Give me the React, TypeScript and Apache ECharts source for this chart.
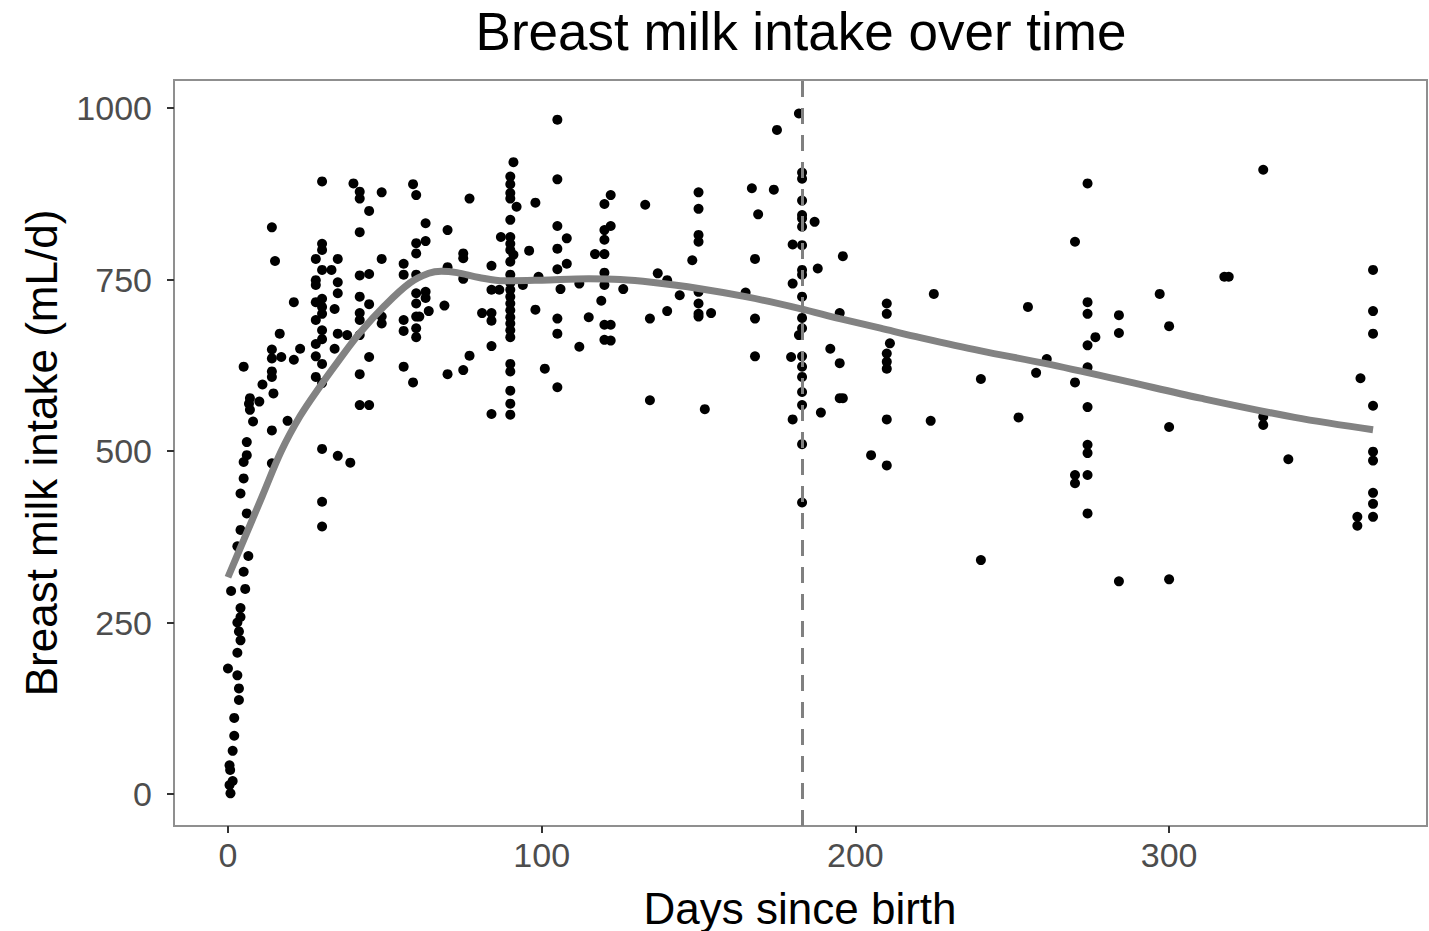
import React, { useEffect, useRef } from "react";
import * as echarts from "echarts";

// Observed points: day since birth, breast milk intake (mL/d)
const pointDays: number[] = [
  // first week
  6, 6, 5, 5, 4, 6, 4, 3, 6.5, 5, 1, 5.5, 4, 4, 3, 3.5, 4, 3, 0, 3, 3.5, 3.5, 2, 2, 1.5, 0.5, 0.7, 1.5, 0.5, 0.8,
  // 1-3 weeks
  5, 11, 14, 14, 14.5, 7, 6.7, 10, 7, 8, 19, 14, 14, 14, 15, 21, 16.5, 14, 23, 14, 17, 21,
  // ~1 month
  30, 30, 30, 28, 30, 33, 35, 28, 28, 35, 35, 28, 30, 30, 28, 30, 34, 30, 30, 28, 35, 38, 28, 30, 34, 28, 30, 30, 35, 39, 30, 30,
  // 40-49
  40, 42, 42, 49, 45, 42, 49, 42, 45, 42, 45, 42, 42, 49, 49, 42, 45, 42, 42, 45,
  // ~2 months
  59, 60, 56, 56, 60, 60, 60, 56, 56, 60, 60, 60, 60, 60, 56, 59, 63, 63, 63, 63, 64, 61,
  // 69-87
  77, 70, 75, 75, 70, 75, 84, 84, 86.5, 87, 69, 81, 84, 84, 84, 77, 75, 70, 84,
  // ~3 months
  91, 90, 90, 90, 90, 92, 90, 90, 90, 90, 91, 90, 90, 90, 90, 90, 90, 90, 90, 90, 90, 90, 90, 90, 90, 90, 90,
  // 94-112
  105, 105, 98, 105, 108, 96, 105, 108, 105, 94, 99, 106, 112, 98, 105, 105, 112, 101, 105,
  // ~4 months
  122, 120, 133, 122, 120, 120, 117, 120, 120, 120, 126, 115, 119, 120, 122, 120, 122, 134.5, 134.5,
  // ~5 months
  150, 150, 150, 150, 148, 137, 140, 144, 150, 150, 150, 150, 154, 140, 152, 167, 174, 175, 169, 168, 165, 168, 168,
  // ~6 months
  182, 183, 183, 183, 183, 183, 183, 187, 180, 183, 188, 183, 183, 180, 183, 183, 183, 182, 179.5, 183, 183, 183, 183,
  183, 180, 189, 183, 183, 196, 195, 192, 195, 195, 196,
  // 7-8 months
  205, 210, 210, 211, 210, 210, 210, 210, 210, 225, 224, 240, 240, 255, 252, 261, 257.6,
  // ~9 months
  274, 270, 274, 274, 276.5, 274, 274, 270, 274, 274, 274, 270, 270, 274, 274, 284, 284, 284,
  // 10-12 months
  300, 297, 300, 300, 317.6, 319, 330, 330, 330, 338, 365, 365, 365, 361, 365, 365, 365, 365, 365, 365, 360, 360,
];

const pointIntake: number[] = [
  513, 494, 484, 460, 438, 409, 385, 361, 347, 324, 296, 299, 271, 258, 250, 237, 224, 206, 183, 173, 154, 137, 111, 85, 63, 42, 35, 19, 13, 1,
  623, 597, 616, 608, 584, 577, 569, 572, 560, 543, 544, 530, 482, 826, 777, 717, 671, 648, 649, 635, 637, 633,
  893, 802, 793, 780, 764, 764, 780, 749, 742, 746, 730, 717, 722, 710, 691, 700, 707, 676, 663, 656, 671, 669, 638, 627, 649, 608, 599, 503, 493, 483, 426, 390,
  890, 878, 868, 877, 850, 819, 780, 756, 758, 725, 714, 701, 691, 696, 686, 669, 637, 612, 567, 567,
  889, 873, 773, 757, 803, 788, 757, 691, 675, 730, 715, 696, 679, 666, 623, 600, 832, 806, 732, 723, 704, 696,
  868, 822, 788, 781, 768, 751, 770, 735, 735, 812, 712, 701, 701, 690, 653, 639, 618, 612, 554,
  921, 900, 889, 876, 868, 856, 837, 812, 802, 793, 786, 776, 757, 745, 735, 725, 715, 705, 695, 686, 676, 666, 627, 616, 588, 569, 553,
  983, 896, 862, 828, 810, 792, 795, 773, 765, 742, 754, 736, 744, 706, 693, 671, 652, 620, 593,
  873, 860, 859, 828, 822, 808, 787, 787, 760, 742, 736, 695, 719, 684, 684, 662, 661, 693, 574,
  877, 853, 815, 805, 778, 759, 749, 727, 732, 715, 700, 696, 701, 704, 561, 883, 881, 968, 845, 780, 731, 693, 638,
  992, 906, 897, 865, 844, 839, 827, 834, 801, 800, 766, 764, 757, 744, 725, 694, 679, 669, 637, 638, 623, 608, 586,
  567, 546, 556, 510, 425, 784, 701, 649, 628, 577, 577,
  494, 715, 700, 657, 642, 630, 620, 546, 479, 729, 544, 605, 341, 710, 549, 634, 614,
  890, 805, 717, 700, 666, 654, 622, 600, 564, 509, 497, 465, 453, 465, 409, 698, 672, 310,
  682, 729, 535, 313, 754, 754, 910, 550, 538, 488, 764, 704, 671, 606, 566, 499, 486, 439, 423, 404, 404, 391,
];

// Smoothed (loess) trend
const smoothDays: number[] = [0, 5, 11, 17, 23, 29, 35, 42, 50, 58, 64, 68, 73, 80, 88, 100, 115, 125, 135, 150, 165, 182, 195, 208, 221, 240, 260, 284, 310, 340, 365];
const smoothIntake: number[] = [316, 370, 435, 500, 551, 592, 630, 672, 712, 745, 759, 762, 760, 753, 748, 749, 751, 750, 746, 737, 725, 708, 693, 679, 665, 646, 628, 604, 577, 549, 531];

const sixMonthsDay = 183;
const xTicks: number[] = [0, 100, 200, 300];
const yTicks: number[] = [0, 250, 500, 750, 1000];

const FONT = "Liberation Sans, Arial, Helvetica, sans-serif";

export default function App() {
  const ref = useRef<HTMLDivElement>(null);

  useEffect(() => {
    if (!ref.current) return;
    const chart = echarts.init(ref.current, undefined, { renderer: "svg" });
    const scatterData = pointDays.map((d, i) => [d, pointIntake[i]]);
    const smoothData = smoothDays.map((d, i) => [d, smoothIntake[i]]);

    chart.setOption({
      animation: false,
      backgroundColor: "#ffffff",
      grid: {
        left: 174,
        right: 2,
        top: 80,
        bottom: 105,
        show: true,
        borderColor: "#8f8f8f",
        borderWidth: 2,
        backgroundColor: "#ffffff",
        containLabel: false,
        outerBoundsMode: "none",
      },
      xAxis: {
        type: "value",
        min: -17.2,
        max: 382.2,
        axisLine: { show: false, onZero: false },
        splitLine: { show: false },
        axisTick: {
          show: true,
          length: 7,
          lineStyle: { color: "#333333", width: 2 },
          customValues: xTicks,
        },
        axisLabel: {
          customValues: xTicks,
          fontSize: 34,
          fontFamily: FONT,
          color: "#4d4d4d",
          margin: 12,
          formatter: (v: number) => String(v),
        },
      },
      yAxis: {
        type: "value",
        min: -46.6,
        max: 1040.8,
        axisLine: { show: false, onZero: false },
        splitLine: { show: false },
        axisTick: {
          show: true,
          length: 7,
          lineStyle: { color: "#333333", width: 2 },
          customValues: yTicks,
        },
        axisLabel: {
          customValues: yTicks,
          fontSize: 34,
          fontFamily: FONT,
          color: "#4d4d4d",
          margin: 22,
          formatter: (v: number) => String(v),
        },
      },
      series: [
        {
          type: "scatter",
          data: scatterData,
          symbolSize: 10,
          itemStyle: { color: "#000000", opacity: 1 },
          z: 2,
          silent: true,
        },
        {
          type: "line",
          data: smoothData,
          smooth: 0.35,
          showSymbol: false,
          symbol: "none",
          lineStyle: { color: "#828282", width: 7 },
          z: 4,
          silent: true,
          markLine: {
            silent: true,
            symbol: ["none", "none"],
            label: { show: false },
            lineStyle: { color: "#808080", width: 3, type: [16, 11] },
            data: [{ xAxis: sixMonthsDay }],
          },
        },
      ],
      graphic: [
        {
          type: "text",
          x: 801,
          y: 31,
          style: {
            text: "Breast milk intake over time",
            fontSize: 53,
            fontFamily: FONT,
            fill: "#000000",
            align: "center",
            verticalAlign: "middle",
            textAlign: "center",
            textVerticalAlign: "middle",
          },
        },
        {
          type: "text",
          x: 800,
          y: 908,
          style: {
            text: "Days since birth",
            fontSize: 44,
            fontFamily: FONT,
            fill: "#000000",
            align: "center",
            verticalAlign: "middle",
            textAlign: "center",
            textVerticalAlign: "middle",
          },
        },
        {
          type: "text",
          x: 41,
          y: 453,
          rotation: Math.PI / 2,
          style: {
            text: "Breast milk intake (mL/d)",
            fontSize: 44,
            fontFamily: FONT,
            fill: "#000000",
            align: "center",
            verticalAlign: "middle",
            textAlign: "center",
            textVerticalAlign: "middle",
          },
        },
      ],
    });

    return () => {
      chart.dispose();
    };
  }, []);

  return (
    <div
      ref={ref}
      style={{ position: "fixed", left: 0, top: 0, width: 1429, height: 931 }}
    />
  );
}
